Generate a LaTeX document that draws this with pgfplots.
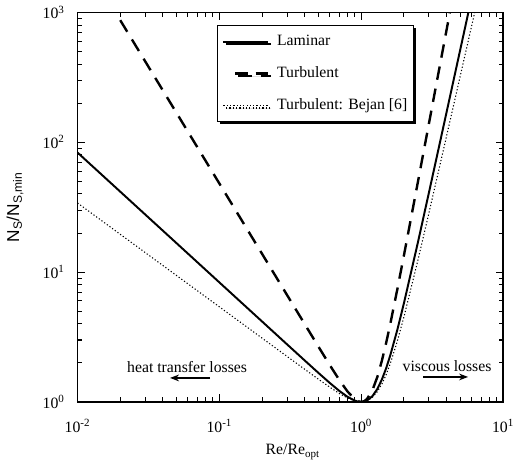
\documentclass[border=0pt]{standalone}
\usepackage{fontspec}
\setmainfont{Liberation Serif}
\newfontfamily\sansf{Liberation Sans}
\usepackage{pgfplots}
\pgfplotsset{compat=1.18}
\usetikzlibrary{arrows.meta,shadows}
\pgfplotsset{
  solidlegend/.style={legend image code/.code={\draw[##1] (1pt,0pt) -- (31pt,0pt); \path (34pt,0pt);}},
  dashlegend/.style={legend image code/.code={\draw[##1, dash pattern=on 8.5pt off 5pt] (9pt,0pt) -- (31pt,0pt); \path (0pt,0pt) (34pt,0pt);}},
}
\begin{document}
\begin{tikzpicture}
\path[use as bounding box] (0,0) rectangle (342.7pt,307.3pt);
\begin{axis}[
  at={(51.7pt,39.3pt)}, anchor=south west,
  scale only axis, width=283.7pt, height=259.7pt,
  xmode=log, ymode=log,
  xmin=0.01, xmax=10, ymin=1, ymax=1000,
  axis line style={line width=0.9pt},
  xtick={0.01,0.1,1,10},
  xticklabels={10\textsuperscript{-2},10\textsuperscript{-1},10\textsuperscript{0},10\textsuperscript{1}},
  ytick={1,10,100,1000},
  yticklabels={10\textsuperscript{0},10\textsuperscript{1},10\textsuperscript{2},10\textsuperscript{3}},
  minor xtick={0.02,0.03,0.04,0.05,0.06,0.07,0.08,0.09,0.2,0.3,0.4,0.5,0.6,0.7,0.8,0.9,2,3,4,5,6,7,8,9},
  minor ytick={2,3,4,5,6,7,8,9,20,30,40,50,60,70,80,90,200,300,400,500,600,700,800,900},
  major tick length=5pt, minor tick length=3pt,
  every tick/.style={line width=0.7pt, black},
  tick align=inside,
  ticklabel style={font=\fontsize{10.5}{12}\selectfont},
  xticklabel style={yshift=-8pt},
  yticklabel style={xshift=-5pt},
  xlabel={Re/Re\textsubscript{opt}},
  ylabel={\sansf\fontsize{11.5}{13}\selectfont N\textsubscript{S}/N\textsubscript{S,min}},
  xlabel style={at={(axis description cs:0.506,-0.128)}, anchor=center, font=\fontsize{10.5}{12}\selectfont},
  ylabel style={at={(axis description cs:-0.147,0.5)}, anchor=center},
  legend style={at={(axis description cs:0.328,0.9677)}, anchor=north west,
    draw=black, line width=0.8pt, fill=white,
    inner xsep=2pt, inner ysep=4.5pt, row sep=8.5pt,
    font=\fontsize{10.5}{12}\selectfont,
    cells={anchor=west},
    drop shadow={shadow xshift=1.8pt, shadow yshift=-1.8pt, fill=black, opacity=1}},
]
\addplot[black, line width=1.3pt, solidlegend] coordinates {
(0.01,83.33) (0.02,41.67) (0.05,16.67) (0.1,8.333) (0.2,4.167) (0.3,2.778)
(0.4,2.085) (0.5,1.672) (0.6,1.402) (0.7,1.2185) (0.8,1.0963) (0.9,1.0243)
(0.95,1.0062) (1.0,1.0) (1.05,1.0064) (1.1,1.026) (1.2,1.1092) (1.3,1.260)
(1.4,1.4916) (1.5,1.821) (1.6,2.2685) (1.8,3.612) (2,5.75) (2.5,16.61)
(3,40.78) (3.5,87.78) (4,170.87) (4.5,307.73) (5,521.0) (5.5,838.96)
(5.7,1003) (6,1296.1)
};
\addlegendentry{Laminar}
\addplot[black, line width=1.6pt, dash pattern=on 9pt off 6pt, dashlegend] coordinates {
(0.02,871.6) (0.03,420.0) (0.05,167.6) (0.1,48.14) (0.2,13.83) (0.3,6.664)
(0.4,3.972) (0.5,2.661) (0.6,1.926) (0.7,1.480) (0.8,1.205) (0.9,1.051)
(0.95,1.0128) (1.0,1.0) (1.05,1.0133) (1.1,1.055) (1.2,1.232) (1.3,1.561)
(1.4,2.085) (1.5,2.857) (1.6,3.946) (1.8,7.432) (2,13.42) (2.5,48.33)
(3,138.8) (3.5,339.2) (4,735.5) (4.2,976.6) (4.3,1119)
};
\addlegendentry{Turbulent}
\addplot[black, line width=0.7pt, dash pattern=on 0.8pt off 1.4pt, solidlegend] coordinates {
(0.01,34.08) (0.02,19.57) (0.05,9.403) (0.1,5.401) (0.2,3.102) (0.3,2.243)
(0.4,1.7835) (0.5,1.4956) (0.6,1.3005) (0.7,1.1647) (0.8,1.0726) (0.9,1.018)
(0.95,1.0045) (1.0,1.0) (1.05,1.0052) (1.1,1.0207) (1.2,1.0853) (1.3,1.201)
(1.4,1.378) (1.5,1.627) (1.6,1.962) (1.8,2.954) (2,4.503) (2.5,12.12)
(3,28.45) (3.5,59.19) (4,112.03) (4.5,197.0) (5,326.5) (5.5,515.7)
(6,782.9) (6.5,1149.3)
};
\addlegendentry{Turbulent: Bejan [6]}
\node[font=\fontsize{10.5}{12}\selectfont] at (axis cs:0.0592,1.861) {heat transfer losses};
\draw[-{Stealth[length=6pt,width=4.5pt]}, line width=0.8pt] (axis cs:0.0859,1.531) -- (axis cs:0.0449,1.531);
\node[font=\fontsize{10.5}{12}\selectfont] at (axis cs:4.03,1.893) {viscous losses};
\draw[-{Stealth[length=6pt,width=4.5pt]}, line width=0.8pt] (axis cs:2.73,1.558) -- (axis cs:5.67,1.558);
\end{axis}
\end{tikzpicture}
\end{document}
